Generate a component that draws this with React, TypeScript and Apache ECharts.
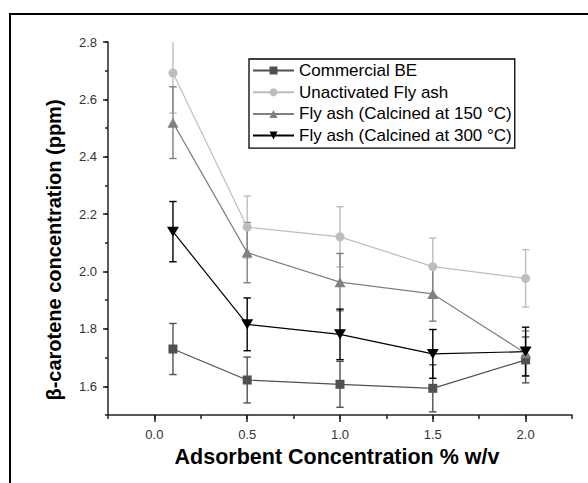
import React, { useEffect, useRef } from 'react';
import * as echarts from 'echarts';

const xValues = [0.1, 0.5, 1.0, 1.5, 2.0];
const seriesNames = [
  'Commercial BE',
  'Unactivated Fly ash',
  'Fly ash (Calcined at 150 °C)',
  'Fly ash (Calcined at 300 °C)',
];
const commercialBE = [1.730, 1.622, 1.607, 1.593, 1.692];
const commercialErr = [0.089, 0.080, 0.080, 0.082, 0.080];
const unactivated = [2.692, 2.155, 2.121, 2.017, 1.976];
const unactivatedErr = [0.140, 0.108, 0.105, 0.100, 0.100];
const calcined150 = [2.519, 2.066, 1.963, 1.922, 1.715];
const calcined150Err = [0.125, 0.105, 0.100, 0.095, 0.078];
const calcined300 = [2.139, 1.816, 1.781, 1.713, 1.721];
const calcined300Err = [0.105, 0.092, 0.088, 0.085, 0.085];

const xRange = [-0.25, 2.25];
const xLabelRange = [0, 2];
const yRange = [1.5, 2.8];
const yLabelRange = [1.6, 2.8];

const xTitle = 'Adsorbent Concentration % w/v';
const yTitle = 'β-carotene concentration (ppm)';

const FONT = 'Liberation Sans, Arial, sans-serif';

const colors = ['#505050', '#bdbdbd', '#808080', '#000000'];
const symbols = ['rect', 'circle', 'triangle', 'triangle'];
const symbolSizes: any[] = [9, 9, [11, 10], [12, 10]];
const symbolRotates = [0, 0, 0, 180];

export default function App() {
  const ref = useRef<HTMLDivElement>(null);
  useEffect(() => {
    document.body.style.margin = '0';
    if (!ref.current) return;
    const chart = echarts.init(ref.current, undefined, { renderer: 'svg' });

    const values = [commercialBE, unactivated, calcined150, calcined300];
    const errs = [commercialErr, unactivatedErr, calcined150Err, calcined300Err];

    const errorSeries = values.map((vals, si) => ({
      type: 'custom',
      name: seriesNames[si] + ' error',
      xAxisIndex: 0,
      yAxisIndex: 0,
      clip: false,
      silent: true,
      z: 1,
      data: xValues.map((x, i) => [x, vals[i] - errs[si][i], vals[i] + errs[si][i]]),
      renderItem: (params: any, api: any) => {
        const x = api.value(0);
        const loV = Math.max(api.value(1), yRange[0]);
        const hiV = Math.min(api.value(2), yRange[1]);
        const lo = api.coord([x, loV]);
        const hi = api.coord([x, hiV]);
        const hw = 3.7;
        const style = { stroke: colors[si], lineWidth: 1.4 };
        const children: any[] = [
          { type: 'line', shape: { x1: lo[0], y1: lo[1], x2: hi[0], y2: hi[1] }, style },
        ];
        if (api.value(1) >= yRange[0]) {
          children.push({ type: 'line', shape: { x1: lo[0] - hw, y1: lo[1], x2: lo[0] + hw, y2: lo[1] }, style });
        }
        if (api.value(2) <= yRange[1]) {
          children.push({ type: 'line', shape: { x1: hi[0] - hw, y1: hi[1], x2: hi[0] + hw, y2: hi[1] }, style });
        }
        return { type: 'group', children };
      },
    }));

    const lineSeries = values.map((vals, si) => ({
      type: 'line',
      name: seriesNames[si],
      xAxisIndex: 0,
      yAxisIndex: 0,
      z: 3,
      clip: false,
      data: xValues.map((x, i) => [x, vals[i]]),
      symbol: symbols[si],
      symbolSize: symbolSizes[si],
      symbolRotate: symbolRotates[si],
      showAllSymbol: true,
      lineStyle: { color: colors[si], width: 1.2 },
      itemStyle: { color: colors[si] },
    }));

    const axisStyle = { color: '#222', width: 1.5 };
    const labelStyle = { color: '#333', fontSize: 13, fontFamily: FONT };

    chart.setOption({
      animation: false,
      backgroundColor: '#fff',
      grid: [
        { show: false, borderWidth: 0, left: 108, top: 42, width: 464, height: 373 },
        { show: false, borderWidth: 0, left: 154.4, top: 42, width: 371.2, height: 344.3 },
      ],
      xAxis: [
        {
          type: 'value', gridIndex: 0, position: 'bottom', min: xRange[0], max: xRange[1], interval: 0.25,
          axisLine: { show: true, onZero: false, lineStyle: axisStyle },
          axisTick: { show: true, length: 4, lineStyle: axisStyle },
          axisLabel: { show: false },
          splitLine: { show: false },
        },
        {
          type: 'value', gridIndex: 1, position: 'bottom', min: xLabelRange[0], max: xLabelRange[1], interval: 0.5,
          offset: 28.7,
          axisLine: { show: false, onZero: false },
          axisTick: { show: true, length: 7, lineStyle: axisStyle },
          axisLabel: { show: true, margin: 13, ...labelStyle, formatter: (v: number) => v.toFixed(1) },
          splitLine: { show: false },
        },
      ],
      yAxis: [
        {
          type: 'value', gridIndex: 0, position: 'left', min: yRange[0], max: yRange[1], interval: 0.1,
          axisLine: { show: true, onZero: false, lineStyle: axisStyle },
          axisTick: { show: true, length: 3, lineStyle: axisStyle },
          axisLabel: { show: false },
          splitLine: { show: false },
        },
        {
          type: 'value', gridIndex: 1, position: 'left', min: yLabelRange[0], max: yLabelRange[1], interval: 0.2,
          offset: 46.4,
          axisLine: { show: false, onZero: false },
          axisTick: { show: true, length: 5, lineStyle: axisStyle },
          axisLabel: { show: true, margin: 11, ...labelStyle, formatter: (v: number) => v.toFixed(1) },
          splitLine: { show: false },
        },
      ],
      legend: {
        data: seriesNames,
        orient: 'vertical',
        left: 249,
        top: 59,
        padding: [3, 3, 4, 3],
        itemGap: 4.7,
        itemWidth: 41,
        itemHeight: 10,
        borderColor: '#000',
        borderWidth: 1.3,
        backgroundColor: '#fff',
        textStyle: { color: '#000', fontSize: 17, fontFamily: FONT },
      },
      graphic: [
        {
          type: 'rect', shape: { x: 10, y: 14, width: 700, height: 600 },
          style: { fill: 'none', stroke: '#000', lineWidth: 2 }, silent: true, z: -1,
        },
        {
          type: 'text', x: 54, y: 250, rotation: Math.PI / 2,
          style: { text: yTitle, align: 'center', verticalAlign: 'middle', fill: '#000', font: `bold 20px ${FONT}` },
        },
        {
          type: 'text', x: 337, y: 457,
          style: { text: xTitle, align: 'center', verticalAlign: 'middle', fill: '#000', font: `bold 21.5px ${FONT}` },
        },
      ],
      series: [...errorSeries, ...lineSeries],
    });
    return () => chart.dispose();
  }, []);
  return (
    <div style={{ position: 'relative', width: 588, height: 483 }}>
      <div ref={ref} style={{ width: 588, height: 483 }} />
      <div
        style={{
          position: 'absolute',
          left: 566,
          top: 30,
          width: 22,
          height: 383,
          background: '#fff',
          zIndex: 10,
        }}
      />
    </div>
  );
}
